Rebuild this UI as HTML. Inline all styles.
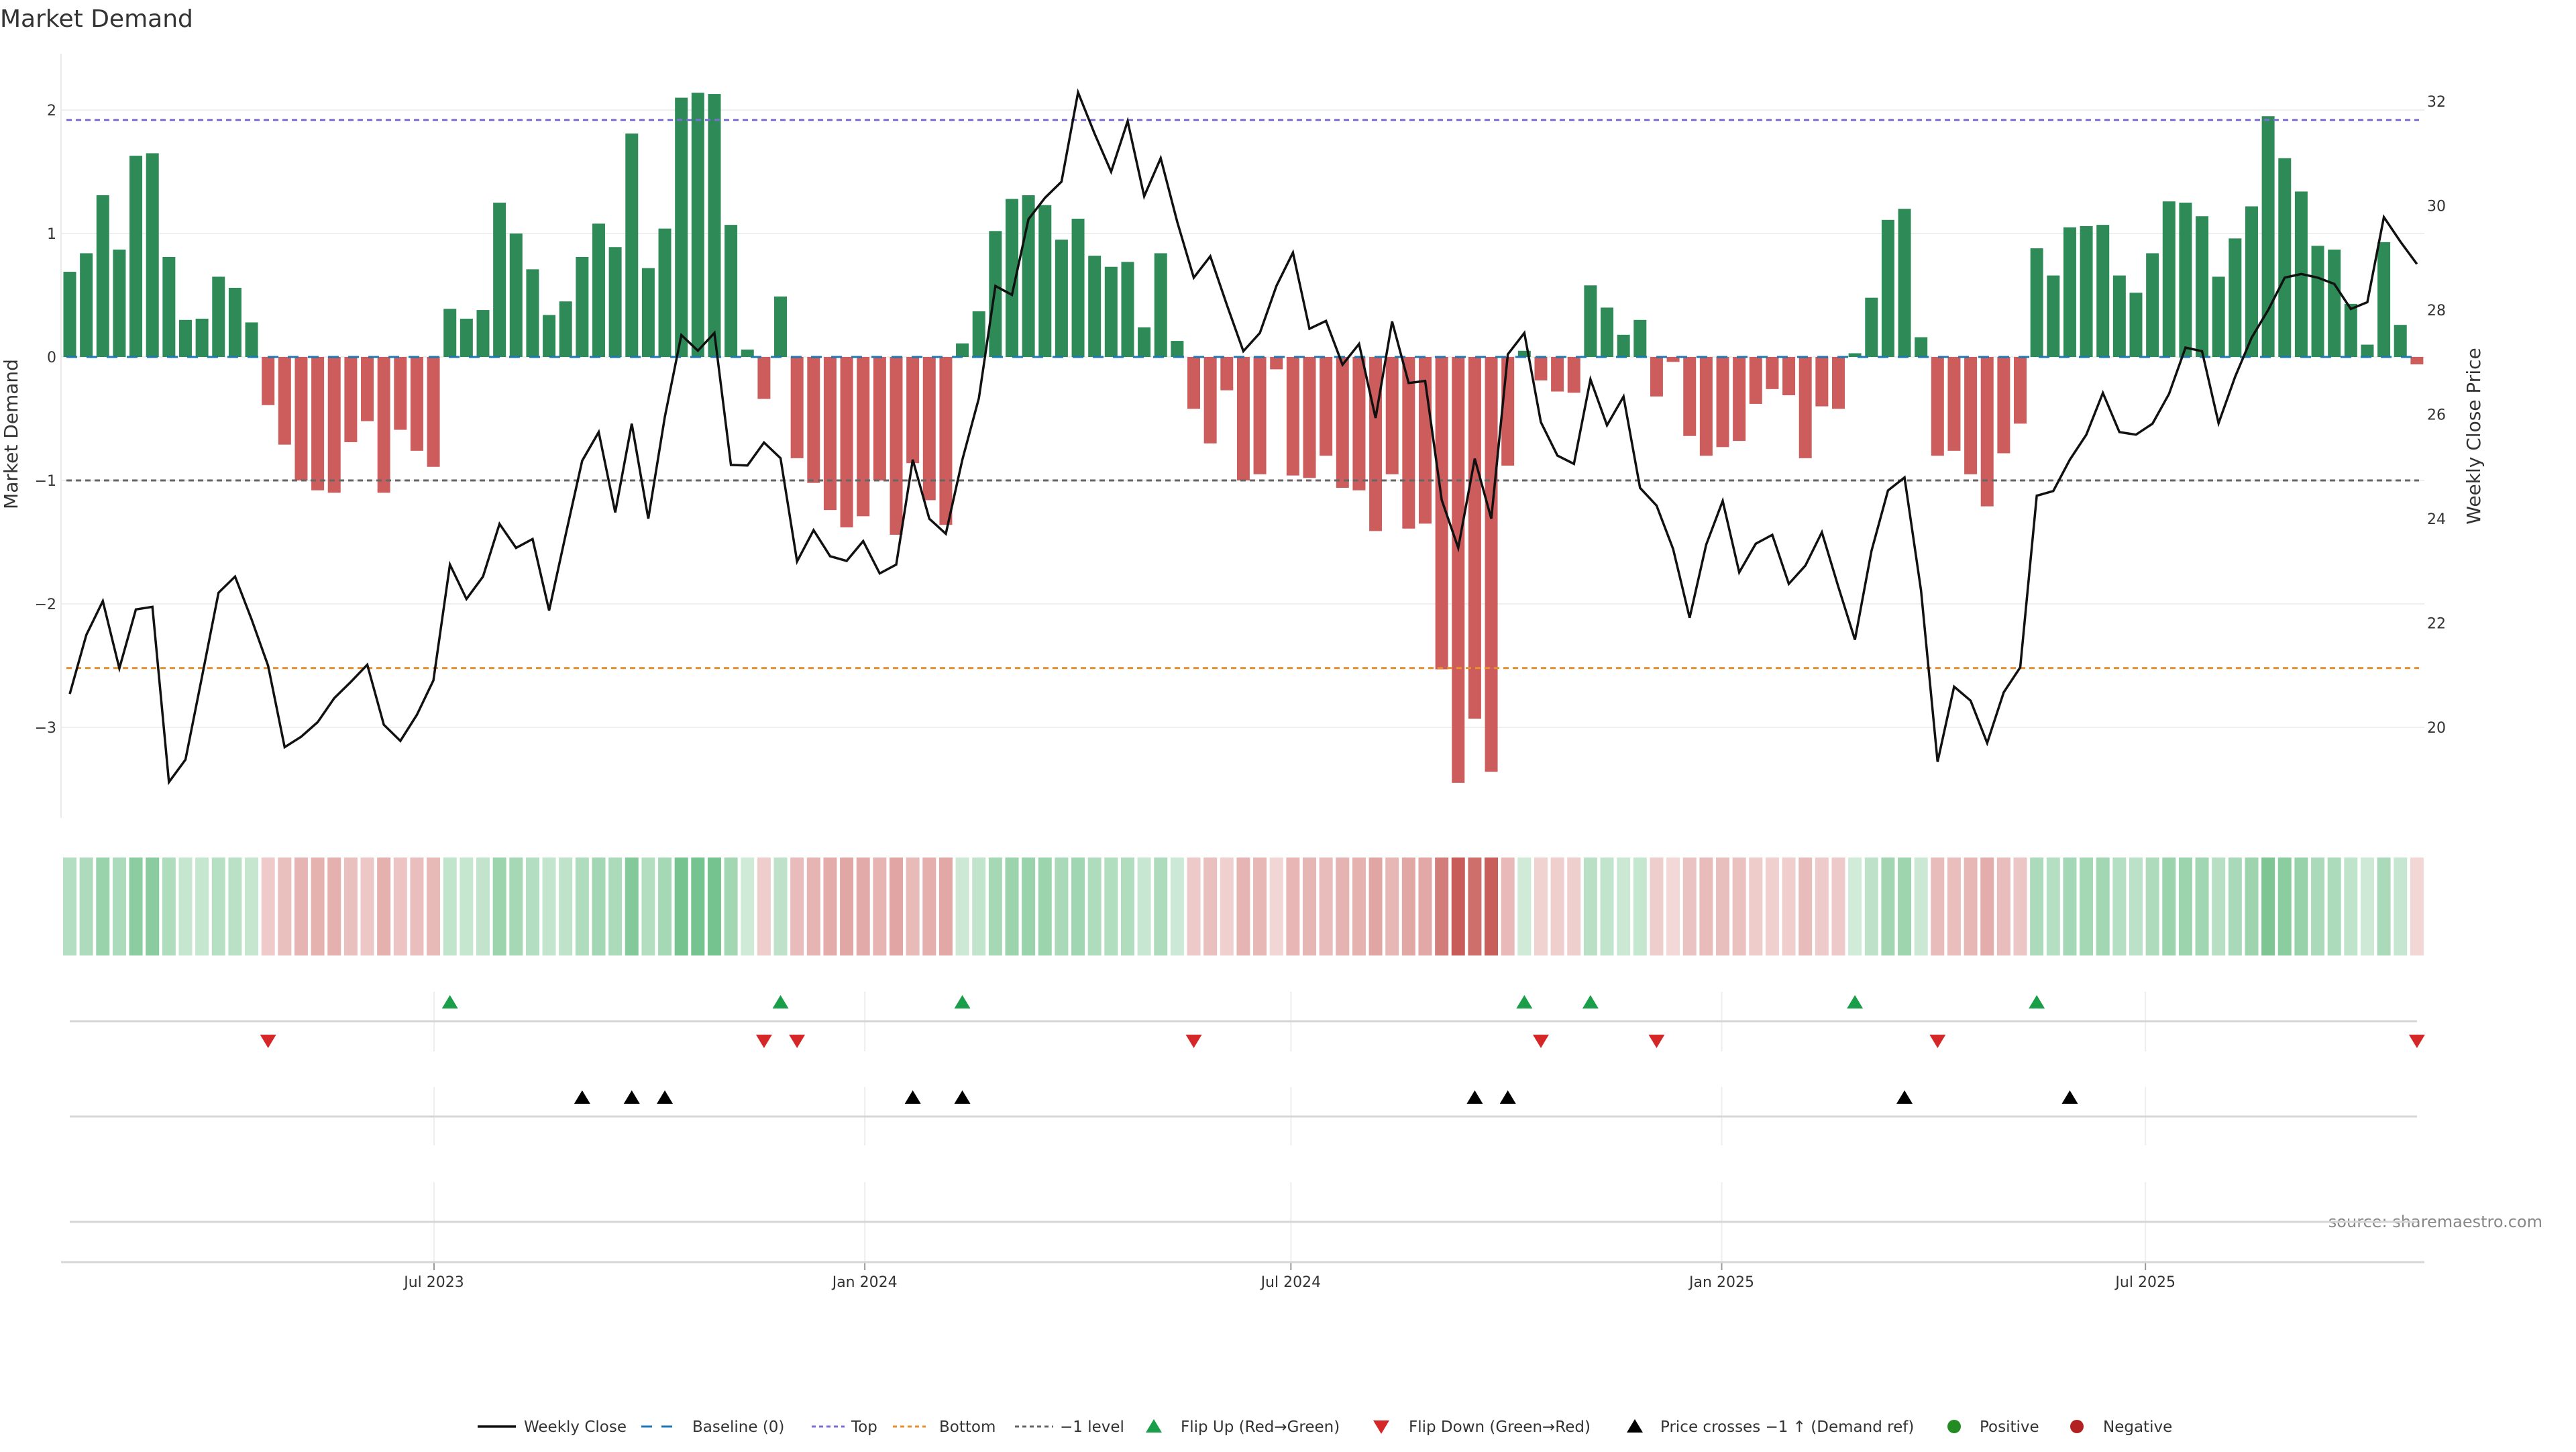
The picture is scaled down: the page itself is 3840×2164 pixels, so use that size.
<!DOCTYPE html>
<html><head><meta charset="utf-8"><title>Market Demand</title>
<style>
html,body{margin:0;padding:0;background:#fff;}
body{width:3840px;height:2160px;overflow:hidden;font-family:"DejaVu Sans","Liberation Sans",sans-serif;}
svg text{font-family:"DejaVu Sans","Liberation Sans",sans-serif;}
</style></head>
<body>
<svg id="chart" width="3840" height="2160" viewBox="0 0 3840 2160" xmlns="http://www.w3.org/2000/svg">
<text x="0" y="40" font-size="36" fill="#333">Market Demand</text>
<text transform="translate(26,647) rotate(-90)" text-anchor="middle" font-size="28" fill="#333">Market Demand</text>
<text transform="translate(3697,650) rotate(-90)" text-anchor="middle" font-size="28" fill="#333">Weekly Close Price</text>
<text x="3790" y="1829" text-anchor="end" font-size="24" fill="#888">source: sharemaestro.com</text>
<g id="g"></g>
</svg>
<script>
const demand = [0.69,0.84,1.31,0.87,1.63,1.65,0.81,0.30,0.31,0.65,0.56,0.28,-0.39,-0.71,-1.0,-1.08,-1.10,-0.69,-0.52,-1.10,-0.59,-0.76,-0.89,0.39,0.31,0.38,1.25,1.0,0.71,0.34,0.45,0.81,1.08,0.89,1.81,0.72,1.04,2.10,2.14,2.13,1.07,0.06,-0.34,0.49,-0.82,-1.02,-1.24,-1.38,-1.29,-1.0,-1.44,-0.86,-1.16,-1.36,0.11,0.37,1.02,1.28,1.31,1.23,0.95,1.12,0.82,0.73,0.77,0.24,0.84,0.13,-0.42,-0.70,-0.27,-1.0,-0.95,-0.10,-0.96,-0.98,-0.80,-1.06,-1.08,-1.41,-0.95,-1.39,-1.35,-2.53,-3.45,-2.93,-3.36,-0.88,0.05,-0.19,-0.28,-0.29,0.58,0.40,0.18,0.30,-0.32,-0.04,-0.64,-0.80,-0.73,-0.68,-0.38,-0.26,-0.31,-0.82,-0.40,-0.42,0.03,0.48,1.11,1.20,0.16,-0.80,-0.76,-0.95,-1.21,-0.78,-0.54,0.88,0.66,1.05,1.06,1.07,0.66,0.52,0.84,1.26,1.25,1.14,0.65,0.96,1.22,1.95,1.61,1.34,0.90,0.87,0.43,0.10,0.93,0.26,-0.06];
const price = [20.64,21.77,22.42,21.13,22.26,22.31,18.95,19.38,20.97,22.58,22.89,22.07,21.18,19.62,19.82,20.10,20.56,20.87,21.20,20.05,19.74,20.24,20.90,23.12,22.46,22.89,23.90,23.44,23.61,22.24,23.69,25.11,25.66,24.12,25.82,24.00,25.95,27.52,27.22,27.56,25.03,25.02,25.46,25.16,23.18,23.78,23.28,23.19,23.57,22.95,23.12,25.13,24.00,23.71,25.13,26.31,28.46,28.29,29.74,30.15,30.46,32.17,31.38,30.65,31.62,30.18,30.91,29.69,28.62,29.03,28.10,27.21,27.56,28.46,29.10,27.64,27.79,26.95,27.35,25.93,27.78,26.60,26.64,24.36,23.44,25.15,24.00,27.15,27.56,25.85,25.21,25.05,26.67,25.79,26.34,24.59,24.25,23.42,22.10,23.50,24.34,22.97,23.52,23.69,22.75,23.10,23.74,22.69,21.68,23.38,24.54,24.79,22.62,19.34,20.78,20.51,19.70,20.67,21.15,24.44,24.53,25.13,25.61,26.41,25.66,25.61,25.82,26.39,27.28,27.21,25.83,26.72,27.47,28.00,28.62,28.69,28.62,28.50,28.02,28.15,29.78,29.31,28.88];
const leftTicks = [-3,-2,-1,0,1,2];
const rightTicks = [20,22,24,26,28,30,32];
const xTickLabels = ["Jul 2023","Jan 2024","Jul 2024","Jan 2025","Jul 2025"];
const xTickDates = ["2023-07-01","2024-01-01","2024-07-01","2025-01-01","2025-07-01"];
const axisRefDate = "2023-07-01";
const topLevel = 1.92;
const bottomLevel = -2.52;
const minusLevel = -1;

const NS = "http://www.w3.org/2000/svg";
const g = document.getElementById('g');
function el(tag, attrs, parent){const e=document.createElementNS(NS,tag);for(const k in attrs)e.setAttribute(k,attrs[k]);(parent||g).appendChild(e);return e;}
const X0=104, STEP=24.64, PLOT_L=91, PLOT_R=3614;
const xi = i => X0 + i*STEP;
const ref0 = Date.parse(axisRefDate);
const xd = s => 647 + (Date.parse(s)-ref0)/86400000*3.49;
const yL = v => 532 - v*184;
const yR = p => 1084 - (p-20)*77.75;

leftTicks.forEach(t=>{
  const l=el('line',{x1:PLOT_L,x2:PLOT_R,y1:yL(t),y2:yL(t),stroke:'#efefef','stroke-width':2});
  
  
  const tx=el('text',{x:84,y:yL(t)+8,'text-anchor':'end','font-size':22,fill:'#333'});
  tx.textContent=(t<0?'\u2212'+Math.abs(t):String(t));
  
  
});
rightTicks.forEach(t=>{
  const tx=el('text',{x:3618,y:yR(t)+8,'font-size':22,fill:'#333'});
  tx.textContent=String(t);
  
  
});
const ax=el('line',{x1:PLOT_L,x2:PLOT_L,y1:80,y2:1219,stroke:'#eaeaea','stroke-width':2});



demand.forEach((v,i)=>{
  const y0=yL(0), y1=yL(v);
  const r=el('rect',{x:xi(i)-9.5,y:Math.min(y0,y1),width:19,height:Math.max(1,Math.abs(y1-y0)),fill:v>=0?'#2e8b57':'#cd5c5c'});
  
  
});
function ref(v,color,dash,name){const l=el('line',{x1:PLOT_L+8,x2:PLOT_R-8,y1:yL(v),y2:yL(v),stroke:color,'stroke-width':3,'stroke-dasharray':dash});
  
  }
ref(0,'#1f77b4','16 14','baseline-zero');
ref(topLevel,'#7b6fd6','8 6','top-level-line');
ref(minusLevel,'#666','8 6','minus-one-level-line');
ref(bottomLevel,'#e8902e','8 6','bottom-level-line');

const pl=el('polyline',{points:price.map((p,i)=>xi(i)+','+yR(p)).join(' '),fill:'none',stroke:'#111','stroke-width':3.5,'stroke-linejoin':'miter'});



demand.forEach((v,i)=>{
  const a=Math.min(1,0.23+0.224*Math.abs(v));
  const b=v>=0?[60,170,95]:[200,92,88];
  const c=b.map(ch=>Math.round(255-(255-ch)*a));
  const r=el('rect',{x:xi(i)-10,y:1278,width:20,height:146,fill:'rgb('+c.join(',')+')'});
  
  
});

xTickDates.forEach((d,k)=>{
  const x=xd(d);
  [[1478,1567],[1620,1707],[1762,1880]].forEach(s=>{
    const l=el('line',{x1:x,x2:x,y1:s[0],y2:s[1],stroke:'#eeeeee','stroke-width':2});
    
    
  });
  const t=el('line',{x1:x,x2:x,y1:1881,y2:1893,stroke:'#999','stroke-width':2});
  
  
  const tx=el('text',{x:x,y:1918,'text-anchor':'middle','font-size':22,fill:'#333'});
  tx.textContent=xTickLabels[k];
  
  
});
[1522,1664,1821].forEach(y=>{
  const l=el('line',{x1:104,x2:3603,y1:y,y2:y,stroke:'#d6d6d6','stroke-width':3});
  
  
});
const xa=el('line',{x1:PLOT_L,x2:PLOT_R,y1:1881,y2:1881,stroke:'#d6d6d6','stroke-width':3});



function tri(x,y,up,color,name){
  const p=up?`${x-12},${y+9} ${x+12},${y+9} ${x},${y-11}`:`${x-12},${y-9} ${x+12},${y-9} ${x},${y+11}`;
  const t=el('polygon',{points:p,fill:color});
  
  
}
const priceThresh = 20 + (1084 - yL(minusLevel))/77.75;
for(let i=1;i<demand.length;i++){
  if(demand[i-1]<0 && demand[i]>=0) tri(xi(i),1494,true,'#1a9e4a','flip-up-marker');
  if(demand[i-1]>=0 && demand[i]<0) tri(xi(i),1551,false,'#d62728','flip-down-marker');
  if(price[i-1]<priceThresh && price[i]>=priceThresh) tri(xi(i),1636,true,'#000','price-cross-marker');
}

const lg=el('g',{});


const LY=2126;
function ltext(x,s){const t=el('text',{x:x,y:LY+8,'font-size':23,fill:'#333'},lg);t.textContent=s;
  
  }
function lline(x1,x2,c,dash,w){const l=el('line',{x1:x1,x2:x2,y1:LY,y2:LY,stroke:c,'stroke-width':w||3,'stroke-dasharray':dash||'none'},lg);
  
  }
lline(712,769,'#111','',3.5); ltext(781,'Weekly Close');
lline(956,1013,'#1f77b4','16 14'); ltext(1032,'Baseline (0)');
lline(1210,1259,'#7b6fd6','6 5'); ltext(1269,'Top');
lline(1331,1380,'#e8902e','6 5'); ltext(1400,'Bottom');
lline(1513,1570,'#666','6 5'); ltext(1580,'\u22121 level');
tri(1720,LY,true,'#1a9e4a','legend-flip-up'); ltext(1760,'Flip Up (Red\u2192Green)');
tri(2059,LY,false,'#d62728','legend-flip-down'); ltext(2100,'Flip Down (Green\u2192Red)');
tri(2437,LY,true,'#000','legend-price-cross'); ltext(2475,'Price crosses \u22121 \u2191 (Demand ref)');
const c1=el('circle',{cx:2913,cy:LY,r:10,fill:'#228b22'},lg);


ltext(2951,'Positive');
const c2=el('circle',{cx:3096,cy:LY,r:10,fill:'#b22222'},lg);


ltext(3135,'Negative');
</script>
</body></html>
